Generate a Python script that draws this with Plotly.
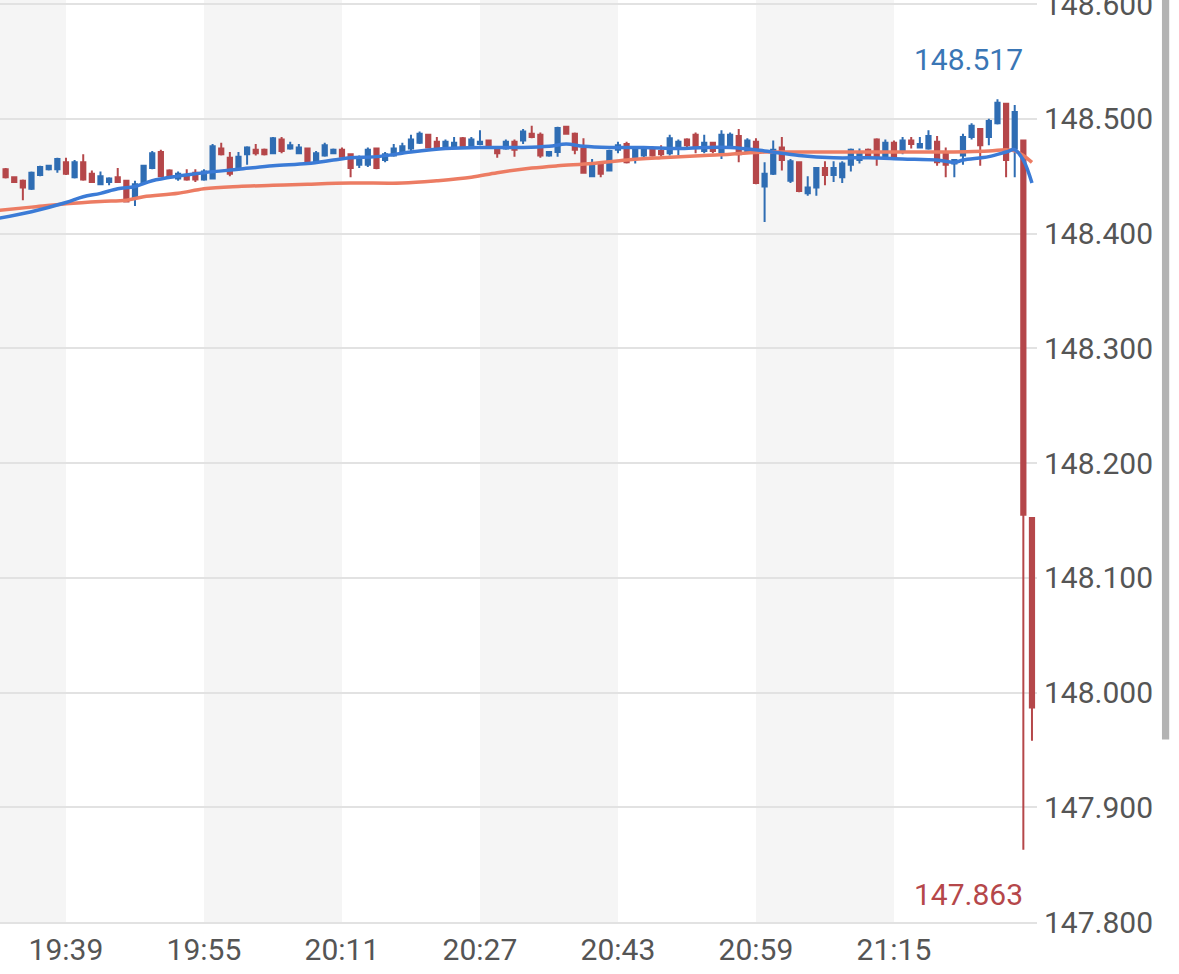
import pandas as pd
import plotly.graph_objects as go

# one-minute bars, 19:32 -> 21:31
times = pd.date_range('2024-01-01 19:32', periods=120, freq='min')

opens = [148.456, 148.449, 148.446, 148.439, 148.451, 148.456, 148.456, 148.462, 148.449, 148.462,
         148.452, 148.443, 148.445, 148.449, 148.446, 148.431, 148.444, 148.457, 148.471, 148.455,
         148.448, 148.451, 148.453, 148.447, 148.448, 148.474, 148.466, 148.457, 148.469, 148.473,
         148.473, 148.470, 148.482, 148.474, 148.470, 148.474, 148.463, 148.468, 148.470, 148.473,
         148.469, 148.460, 148.460, 148.474, 148.464, 148.468, 148.471, 148.474, 148.479, 148.486,
         148.480, 148.475, 148.475, 148.483, 148.476, 148.478, 148.481, 148.474, 148.474, 148.480,
         148.481, 148.487, 148.486, 148.468, 148.471, 148.493, 148.487, 148.474, 148.450, 148.460,
         148.455, 148.473, 148.478, 148.465, 148.468, 148.473, 148.472, 148.470, 148.474, 148.482,
         148.486, 148.472, 148.479, 148.471, 148.477, 148.485, 148.472, 148.480, 148.441, 148.452,
         148.475, 148.446, 148.462, 148.435, 148.440, 148.457, 148.451, 148.449, 148.460, 148.464,
         148.473, 148.482, 148.466, 148.479, 148.471, 148.481, 148.475, 148.474, 148.480, 148.471,
         148.461, 148.468, 148.484, 148.491, 148.484, 148.496, 148.513, 148.474, 148.481, 148.152]
highs = [148.457, 148.450, 148.447, 148.454, 148.459, 148.460, 148.466, 148.466, 148.464, 148.469,
         148.455, 148.454, 148.449, 148.457, 148.446, 148.446, 148.460, 148.472, 148.473, 148.456,
         148.454, 148.456, 148.456, 148.456, 148.478, 148.479, 148.471, 148.471, 148.476, 148.478,
         148.474, 148.484, 148.484, 148.480, 148.478, 148.475, 148.472, 148.479, 148.474, 148.475,
         148.470, 148.468, 148.475, 148.475, 148.471, 148.478, 148.479, 148.486, 148.489, 148.487,
         148.484, 148.482, 148.484, 148.484, 148.484, 148.490, 148.482, 148.475, 148.482, 148.482,
         148.491, 148.494, 148.488, 148.472, 148.493, 148.494, 148.488, 148.483, 148.465, 148.460,
         148.473, 148.480, 148.480, 148.474, 148.476, 148.476, 148.477, 148.486, 148.482, 148.483,
         148.488, 148.486, 148.480, 148.490, 148.488, 148.491, 148.483, 148.483, 148.462, 148.481,
         148.484, 148.465, 148.463, 148.450, 148.458, 148.463, 148.463, 148.463, 148.474, 148.474,
         148.474, 148.483, 148.482, 148.481, 148.484, 148.484, 148.484, 148.490, 148.485, 148.475,
         148.465, 148.487, 148.496, 148.492, 148.500, 148.517, 148.514, 148.512, 148.482, 148.153]
lows = [148.448, 148.444, 148.429, 148.438, 148.450, 148.455, 148.453, 148.451, 148.448, 148.446,
        148.444, 148.443, 148.442, 148.444, 148.427, 148.424, 148.443, 148.456, 148.449, 148.449,
        148.446, 148.446, 148.445, 148.446, 148.447, 148.468, 148.450, 148.455, 148.460, 148.468,
        148.468, 148.469, 148.470, 148.473, 148.469, 148.461, 148.462, 148.467, 148.469, 148.466,
        148.449, 148.457, 148.458, 148.456, 148.462, 148.467, 148.470, 148.472, 148.478, 148.474,
        148.473, 148.474, 148.474, 148.474, 148.475, 148.477, 148.474, 148.466, 148.473, 148.467,
        148.478, 148.483, 148.466, 148.467, 148.467, 148.486, 148.469, 148.452, 148.449, 148.449,
        148.454, 148.470, 148.461, 148.461, 148.466, 148.467, 148.467, 148.468, 148.468, 148.474,
        148.470, 148.470, 148.470, 148.465, 148.475, 148.462, 148.471, 148.443, 148.410, 148.451,
        148.455, 148.444, 148.436, 148.433, 148.433, 148.442, 148.445, 148.444, 148.454, 148.461,
        148.466, 148.459, 148.465, 148.465, 148.469, 148.474, 148.474, 148.473, 148.459, 148.449,
        148.449, 148.460, 148.482, 148.459, 148.477, 148.495, 148.449, 148.449, 147.863, 147.958]
closes = [148.449, 148.445, 148.440, 148.453, 148.458, 148.459, 148.465, 148.452, 148.462, 148.447,
          148.445, 148.450, 148.448, 148.445, 148.428, 148.443, 148.459, 148.470, 148.450, 148.450,
          148.452, 148.447, 148.447, 148.454, 148.476, 148.469, 148.452, 148.467, 148.475, 148.470,
          148.469, 148.483, 148.472, 148.477, 148.475, 148.462, 148.470, 148.477, 148.473, 148.467,
          148.457, 148.466, 148.473, 148.457, 148.469, 148.474, 148.476, 148.482, 148.487, 148.475,
          148.474, 148.480, 148.479, 148.476, 148.482, 148.480, 148.475, 148.470, 148.480, 148.473,
          148.489, 148.484, 148.468, 148.471, 148.492, 148.487, 148.473, 148.453, 148.461, 148.452,
          148.472, 148.477, 148.462, 148.473, 148.474, 148.468, 148.469, 148.483, 148.480, 148.477,
          148.475, 148.479, 148.472, 148.486, 148.486, 148.469, 148.481, 148.444, 148.452, 148.473,
          148.464, 148.463, 148.437, 148.440, 148.457, 148.451, 148.457, 148.461, 148.473, 148.470,
          148.467, 148.467, 148.479, 148.466, 148.481, 148.478, 148.478, 148.485, 148.462, 148.460,
          148.464, 148.484, 148.494, 148.477, 148.498, 148.514, 148.464, 148.506, 148.155, 147.987]

# moving averages
ma_fast_t = ['19:31', '19:35', '19:39', '19:41', '19:43', '19:45', '19:47', '19:49', '19:52', '19:55',
             '19:59', '20:03', '20:07', '20:10', '20:12', '20:15', '20:19', '20:23', '20:27', '20:32',
             '20:35', '20:37', '20:39', '20:42', '20:46', '20:50', '20:53', '20:56', '21:00', '21:04',
             '21:08', '21:12', '21:16', '21:20', '21:22', '21:23', '21:26', '21:28', '21:29', '21:30', '21:31']
ma_fast = [148.413, 148.419, 148.427, 148.432, 148.435, 148.439, 148.441, 148.446, 148.450, 148.453,
           148.456, 148.459, 148.461, 148.464, 148.466, 148.467, 148.471, 148.474, 148.475, 148.475,
           148.476, 148.478, 148.476, 148.475, 148.475, 148.474, 148.475, 148.475, 148.472, 148.468,
           148.466, 148.466, 148.465, 148.464, 148.462, 148.464, 148.467, 148.471, 148.473, 148.464, 148.444]
ma_slow_t = ['19:31', '19:35', '19:39', '19:43', '19:46', '19:48', '19:52', '19:55', '19:59', '20:03',
             '20:07', '20:12', '20:18', '20:22', '20:26', '20:29', '20:33', '20:36', '20:40', '20:44',
             '20:48', '20:53', '20:56', '21:00', '21:04', '21:13', '21:20', '21:26', '21:28', '21:29',
             '21:30', '21:31']
ma_slow = [148.420, 148.423, 148.426, 148.428, 148.429, 148.432, 148.435, 148.439, 148.441, 148.442,
           148.443, 148.444, 148.444, 148.446, 148.449, 148.453, 148.457, 148.459, 148.461, 148.464,
           148.466, 148.468, 148.469, 148.471, 148.471, 148.471, 148.471, 148.472, 148.473, 148.472,
           148.468, 148.462]

tick_times = ['19:39', '19:55', '20:11', '20:27', '20:43', '20:59', '21:15']
band_edges = [('19:20', '19:39'), ('19:55', '20:11'), ('20:27', '20:43'), ('20:59', '21:15')]
y_ticks = [147.8, 147.9, 148.0, 148.1, 148.2, 148.3, 148.4, 148.5, 148.6]

day = '2024-01-01 '
BLUE = '#2f6db3'
RED = '#b5474a'

fig = go.Figure()
fig.add_trace(go.Candlestick(
    x=times, open=opens, high=highs, low=lows, close=closes,
    increasing=dict(line=dict(color=BLUE, width=2), fillcolor=BLUE),
    decreasing=dict(line=dict(color=RED, width=2), fillcolor=RED),
    showlegend=False,
))
fig.add_trace(go.Scatter(x=[day + t for t in ma_slow_t], y=ma_slow, mode='lines',
                         line=dict(color='#ec7c63', width=3.5, shape='spline'), showlegend=False))
fig.add_trace(go.Scatter(x=[day + t for t in ma_fast_t], y=ma_fast, mode='lines',
                         line=dict(color='#3b7bd6', width=3.5, shape='spline'), showlegend=False))

for a, b in band_edges:
    fig.add_vrect(x0=day + a, x1=day + b, fillcolor='#f5f5f5', line_width=0, layer='below')

# max / min labels
fig.add_annotation(x=day + '21:30', y=max(highs), text=f'{max(highs):.3f}', showarrow=False,
                   xanchor='right', yanchor='middle', yshift=40, xshift=2,
                   font=dict(color='#3a76b5', size=30))
fig.add_annotation(x=day + '21:30', y=min(lows), text=f'{min(lows):.3f}', showarrow=False,
                   xanchor='right', yanchor='middle', yshift=-45, xshift=2,
                   font=dict(color='#b5474a', size=30))

# scrollbar on the right edge
fig.add_shape(type='rect', xref='paper', yref='paper', x0=1.1205, x1=1.1275, y0=0.198, y1=1.02,
              fillcolor='#b3b3b3', line_width=0)

fig.update_layout(
    width=1179, height=974,
    margin=dict(l=0, r=142, t=0, b=52),
    plot_bgcolor='white', paper_bgcolor='white',
    font=dict(family='Roboto', size=30, color='#555555'),
)
fig.update_xaxes(
    rangeslider_visible=False,
    range=[day + '19:31:21', day + '21:31:35'],
    tickvals=[day + t for t in tick_times], ticktext=tick_times,
    showgrid=False, zeroline=False, ticks='',
    showline=True, linecolor='#e2e2e2', linewidth=1.5, automargin=False,
)
fig.update_yaxes(
    side='right', range=[147.8, 148.6035],
    tickvals=y_ticks, ticktext=[f'{v:.3f}' for v in y_ticks],
    showgrid=True, gridcolor='#e2e2e2', gridwidth=1.5, zeroline=False, ticks='',
    showline=False, ticklabelstandoff=6, ticklabeloverflow='allow', automargin=False,
)

fig.write_html("out.html", config={'displayModeBar': False},
               post_script="document.body.style.margin='0';document.body.style.overflow='hidden';")
